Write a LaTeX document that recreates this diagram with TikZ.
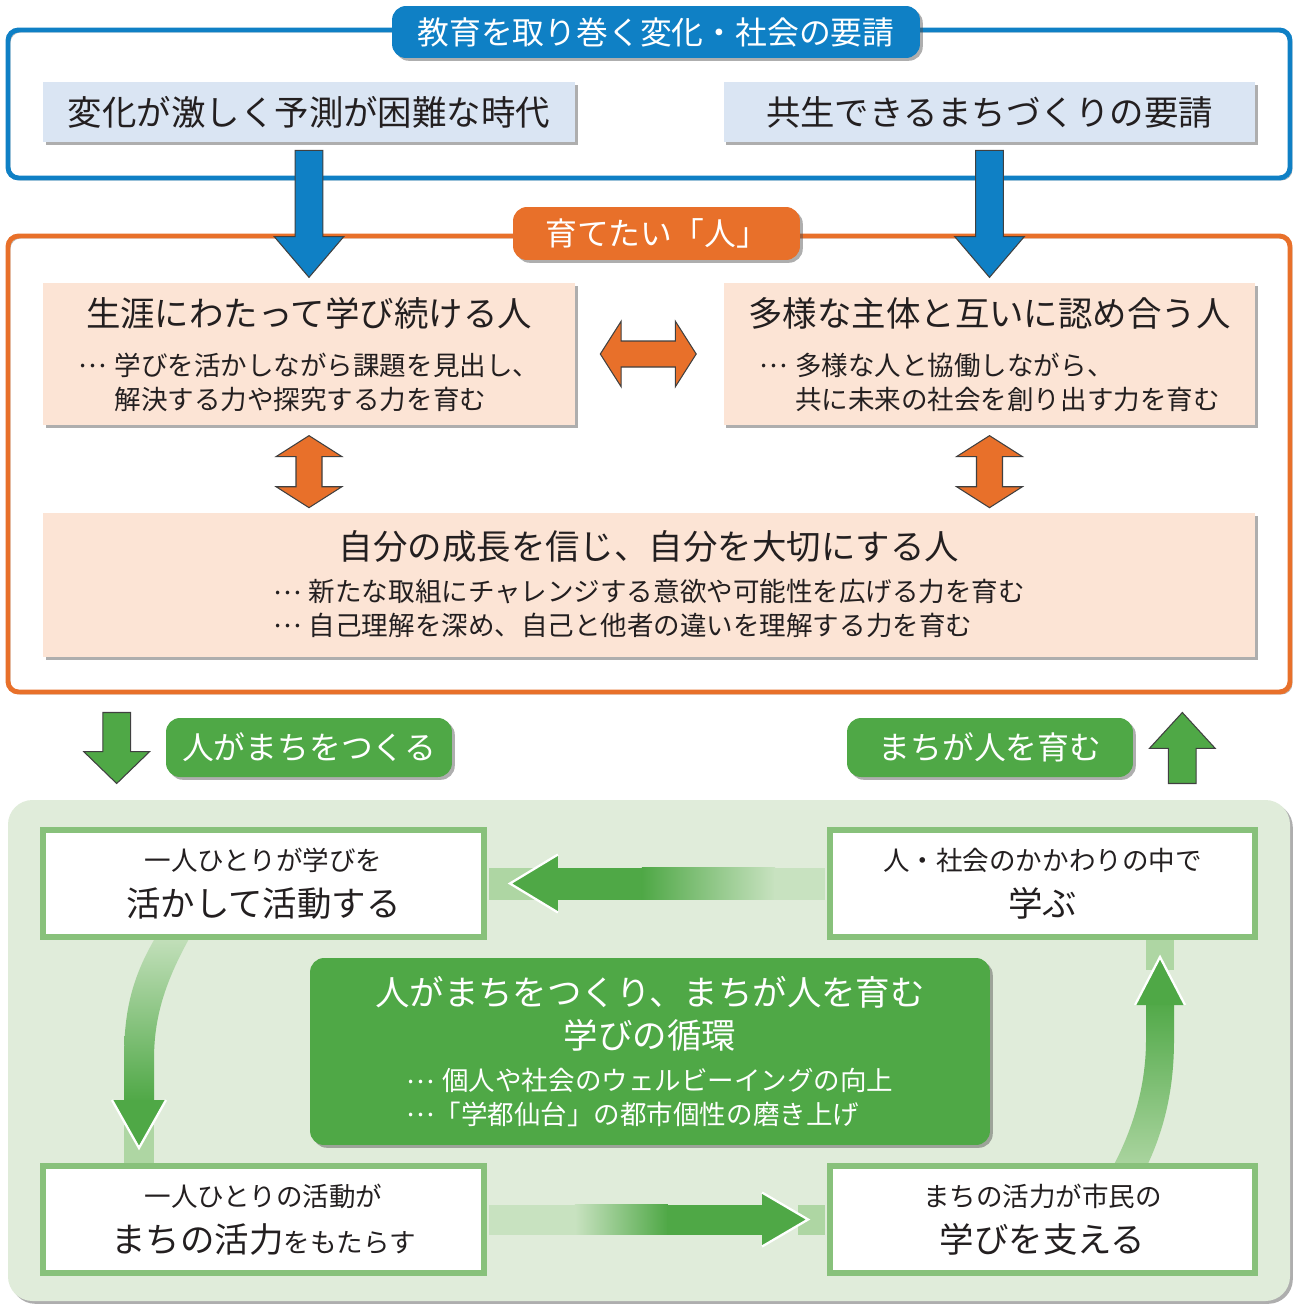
\documentclass[tikz,border=0pt]{standalone}
\usepackage{fontspec}
\setmainfont{Noto Sans CJK JP}
\usetikzlibrary{calc,shadows,positioning}

\definecolor{bluemain}{HTML}{0F80C5}
\definecolor{bluelight}{HTML}{DAE5F3}
\definecolor{orangemain}{HTML}{E8702A}
\definecolor{peach}{HTML}{FCE4D5}
\definecolor{greenmain}{HTML}{4FA846}
\definecolor{greenedge}{HTML}{88C17B}
\definecolor{greenpanel}{HTML}{E0ECDA}
\definecolor{greenband}{HTML}{AED6A3}
\definecolor{greenpale}{HTML}{C8E2C0}
\definecolor{inkdark}{HTML}{231F20}

\newcommand\bigtxt{\fontsize{19.6pt}{24.4pt}\selectfont}
\newcommand\smalltxt{\fontsize{15.1pt}{19.3pt}\selectfont}
\newcommand\tabtxt{\fontsize{18.1pt}{22pt}\selectfont}
\newcommand\middots{\raisebox{.3em}{…}}
\newcommand\dotlead{\makebox[1.35em][l]{\middots}}
\newcommand\indentlead{\hspace*{1.35em}}
\newcommand\topstrut[1]{\rule{0pt}{#1}}

% block arrow: style, from, to, shaft half width, head half width, head length
\newcommand\blockarrow[6]{%
  \coordinate (ba-h) at ($(#3)!#6!(#2)$);
  \path[#1] ($(#2)!#4!90:(#3)$) -- ($(ba-h)!#4!90:(#3)$) -- ($(ba-h)!#5!90:(#3)$) -- (#3)
    -- ($(ba-h)!#5!-90:(#3)$) -- ($(ba-h)!#4!-90:(#3)$) -- ($(#2)!#4!-90:(#3)$) -- cycle;}
\newcommand\doublearrow[6]{%
  \coordinate (da-a) at ($(#2)!#6!(#3)$);
  \coordinate (da-b) at ($(#3)!#6!(#2)$);
  \path[#1] (#2) -- ($(da-a)!#5!90:(#3)$) -- ($(da-a)!#4!90:(#3)$) -- ($(da-b)!#4!90:(#3)$)
    -- ($(da-b)!#5!90:(#3)$) -- (#3) -- ($(da-b)!#5!-90:(#3)$) -- ($(da-b)!#4!-90:(#3)$)
    -- ($(da-a)!#4!-90:(#3)$) -- ($(da-a)!#5!-90:(#3)$) -- cycle;}

\begin{document}
\begin{tikzpicture}
  [x=0.02cm, y=-0.02cm,
   boxshadow/.style={drop shadow={shadow xshift=1.6pt, shadow yshift=-1.6pt, opacity=.45, fill=black!70}},
   frame/.style={line width=2.8pt, rounded corners=6pt,
     preaction={draw=black!30, transform canvas={shift={(1.2pt,-1.2pt)}}}},
   tab/.style={rounded corners=8pt, text=white, font=\tabtxt, inner sep=0pt, boxshadow},
   reqbox/.style={fill=bluelight, minimum width=10.64cm, minimum height=1.2cm,
     font=\bigtxt, text=inkdark, boxshadow},
   personbox/.style={fill=peach, minimum width=10.64cm, minimum height=2.84cm,
     align=center, font=\smalltxt, text=inkdark, boxshadow},
   stepbox/.style={fill=white, draw=greenedge, line width=3.4pt, minimum height=2.14cm,
     align=center, font=\bigtxt, text=inkdark, boxshadow},
   bluearrow/.style={fill=bluemain, draw=black!75, line width=.6pt},
   orangearrow/.style={fill=orangemain, draw=black!75, line width=.6pt},
   greenarrow/.style={fill=greenmain, draw=black!75, line width=.6pt},
   chevron/.style={draw=white, line width=1.3pt}]

  \useasboundingbox (0,0) rectangle (1297,1304);
  \fill[white] (0,0) rectangle (1297,1304);

  \draw[frame, bluemain] (8,30) rectangle (1290,178);
  \draw[frame, orangemain] (8,236) rectangle (1290,692);

  \node[reqbox] (reqleft) at (309,112) {変化が激しく予測が困難な時代};
  \node[reqbox] (reqright) at (989.5,112) {共生できるまちづくりの要請};

  \node[personbox] (plife) at (309,354)
    {{\bigtxt\topstrut{21.7pt}生涯にわたって学び続ける人}\\[8.4pt]\begin{tabular}[t]{@{}l@{}}\dotlead 学びを活かしながら課題を見出し、\\\indentlead 解決する力や探究する力を育む\end{tabular}};
  \node[personbox] (pdiverse) at (989.5,354)
    {{\bigtxt\topstrut{21.7pt}多様な主体と互いに認め合う人}\\[8.4pt]\begin{tabular}[t]{@{}l@{}}\dotlead 多様な人と協働しながら、\\\indentlead 共に未来の社会を創り出す力を育む\end{tabular}};
  \node[personbox, minimum width=24.24cm, minimum height=2.88cm] (pself) at (649,585)
    {{\bigtxt\topstrut{20pt}自分の成長を信じ、自分を大切にする人}\\[5.1pt]\begin{tabular}[t]{@{}l@{}}\dotlead 新たな取組にチャレンジする意欲や可能性を広げる力を育む\\\dotlead 自己理解を深め、自己と他者の違いを理解する力を育む\end{tabular}};

  \coordinate (bl-s) at ($(reqleft.south)+(0,8)$);
  \coordinate (bl-e) at ($(plife.north)+(0,-5)$);
  \blockarrow{bluearrow}{bl-s}{bl-e}{7.9pt}{19.8pt}{23.2pt}
  \coordinate (br-s) at ($(reqright.south)+(0,8)$);
  \coordinate (br-e) at ($(pdiverse.north)+(0,-5)$);
  \blockarrow{bluearrow}{br-s}{br-e}{7.9pt}{19.8pt}{23.2pt}

  \node[tab, fill=bluemain, minimum width=10.56cm, minimum height=1.04cm] (tabedu) at (656,32)
    {教育を取り巻く変化・社会の要請};
  \node[tab, fill=orangemain, minimum width=5.74cm, minimum height=1.06cm] (tabperson) at (656.5,233.5)
    {育てたい「人」};

  \coordinate (oh-a) at ($(plife.east)+(25,0)$);
  \coordinate (oh-b) at ($(pdiverse.west)+(-27,0)$);
  \doublearrow{orangearrow}{oh-a}{oh-b}{7.4pt}{18.7pt}{11.9pt}
  \coordinate (ol-a) at ($(plife.south)+(0,10)$);
  \coordinate (ol-b) at ($(plife.south |- pself.north)+(0,-5)$);
  \doublearrow{orangearrow}{ol-a}{ol-b}{7.4pt}{18.7pt}{11.9pt}
  \coordinate (or-a) at ($(pdiverse.south)+(0,10)$);
  \coordinate (or-b) at ($(pdiverse.south |- pself.north)+(0,-5)$);
  \doublearrow{orangearrow}{or-a}{or-b}{7.4pt}{18.7pt}{11.9pt}

  \node[tab, fill=greenmain, minimum width=5.72cm, minimum height=1.18cm] (tabmake) at (309,747.5)
    {人がまちをつくる};
  \node[tab, fill=greenmain, minimum width=5.72cm, minimum height=1.18cm] (tabgrow) at (990,747.5)
    {まちが人を育む};
  \coordinate (gd-a) at ($(tabmake.west)+(-49,-35)$);
  \coordinate (gd-b) at ($(tabmake.west)+(-49,36)$);
  \blockarrow{greenarrow}{gd-a}{gd-b}{7.9pt}{18.7pt}{18.1pt}
  \coordinate (gu-a) at ($(tabgrow.east)+(49,36)$);
  \coordinate (gu-b) at ($(tabgrow.east)+(49,-35)$);
  \blockarrow{greenarrow}{gu-a}{gu-b}{7.9pt}{18.7pt}{20.4pt}

  \fill[greenpanel, rounded corners=14pt, boxshadow] (8,800) rectangle (1290,1301);

  % curved bands
  \shade[top color=greenpale, bottom color=greenmain]
    (160,930) .. controls (132,975) and (124,1010) .. (124,1060) -- (124,1102)
    -- (154,1102) -- (154,1060) .. controls (154,1018) and (164,982) .. (194,930) -- cycle;
  \fill[greenband] (124,1125) rectangle (154,1170);
  \coordinate (lc-tip) at (139,1148);
  \coordinate (lc-base) at ($(lc-tip)+(0,-48)$);
  \fill[greenmain] ($(lc-base)+(-27,0)$) -- (lc-tip) -- ($(lc-base)+(27,0)$) -- cycle;
  \draw[chevron] ($(lc-base)+(-27,0)$) -- (lc-tip) -- ($(lc-base)+(27,0)$);

  \shade[top color=greenmain, bottom color=greenband]
    (1146,998) -- (1146,1040) .. controls (1146,1080) and (1136,1125) .. (1110,1172)
    -- (1144,1172) .. controls (1166,1128) and (1174,1085) .. (1174,1040) -- (1174,998) -- cycle;
  \fill[greenband] (1146,930) rectangle (1174,970);
  \coordinate (rc-tip) at (1160,957);
  \coordinate (rc-base) at ($(rc-tip)+(0,48)$);
  \fill[greenmain] ($(rc-base)+(-25,0)$) -- (rc-tip) -- ($(rc-base)+(25,0)$) -- cycle;
  \draw[chevron] ($(rc-base)+(-25,0)$) -- (rc-tip) -- ($(rc-base)+(25,0)$);

  \node[stepbox, minimum width=8.82cm] (act) at (263.5,883.5)
    {{\smalltxt 一人ひとりが学びを}\\[1.6pt]活かして活動する};
  \node[stepbox, minimum width=8.5cm] (learn) at (1042.5,883.5)
    {{\smalltxt 人・社会のかかわりの中で}\\[1.6pt]学ぶ};
  \node[stepbox, minimum width=8.82cm] (vital) at (263.5,1219.5)
    {{\smalltxt 一人ひとりの活動が}\\[1.6pt]まちの活力{\smalltxt をもたらす}};
  \node[stepbox, minimum width=8.5cm] (support) at (1042.5,1219.5)
    {{\smalltxt まちの活力が市民の}\\[1.6pt]学びを支える};

  % learn -> act
  \coordinate (ft-tip) at ($(act.east)+(23,0)$);
  \coordinate (ft-base) at ($(ft-tip)+(48,0)$);
  \fill[greenband] ($(act.east)+(2,-16)$) rectangle ($(ft-base)+(0,16)$);
  \fill[greenmain] ($(ft-base)+(-1,-16)$) rectangle ($(act.east)+(156,16)$);
  \shade[left color=greenmain, right color=greenpale] ($(act.east)+(155,-16)$) rectangle ($(learn.west)+(-52,16)$);
  \fill[greenpale] ($(learn.west)+(-53,-16)$) rectangle ($(learn.west)+(-2,16)$);
  \fill[greenmain] ($(ft-base)+(0,-29)$) -- (ft-tip) -- ($(ft-base)+(0,29)$) -- cycle;
  \draw[chevron] ($(ft-base)+(0,-29)$) -- (ft-tip) -- ($(ft-base)+(0,29)$);

  % vital -> support
  \coordinate (fb-tip) at ($(support.west)+(-19,0)$);
  \coordinate (fb-base) at ($(fb-tip)+(-46,0)$);
  \fill[greenpale] ($(vital.east)+(2,-15)$) rectangle ($(vital.east)+(89,15)$);
  \shade[left color=greenpale, right color=greenmain] ($(vital.east)+(88,-15)$) rectangle ($(vital.east)+(181,15)$);
  \fill[greenmain] ($(vital.east)+(180,-15)$) rectangle ($(fb-base)+(1,15)$);
  \fill[greenband] ($(fb-tip)+(-10,-15)$) rectangle ($(support.west)+(-2,15)$);
  \fill[greenmain] ($(fb-base)+(0,-27)$) -- (fb-tip) -- ($(fb-base)+(0,27)$) -- cycle;
  \draw[chevron] ($(fb-base)+(0,-27)$) -- (fb-tip) -- ($(fb-base)+(0,27)$);

  \node[fill=greenmain, rounded corners=8pt, minimum width=13.6cm, minimum height=3.74cm,
    text=white, align=center, font=\bigtxt, boxshadow] (circ) at (650,1051.5)
    {\topstrut{21.2pt}人がまちをつくり、まちが人を育む\\学びの循環\\[0pt]{\smalltxt\begin{tabular}[t]{@{}l@{}}\dotlead 個人や社会のウェルビーイングの向上\\\middots「学都仙台」の都市個性の磨き上げ\end{tabular}}};
\end{tikzpicture}
\end{document}
